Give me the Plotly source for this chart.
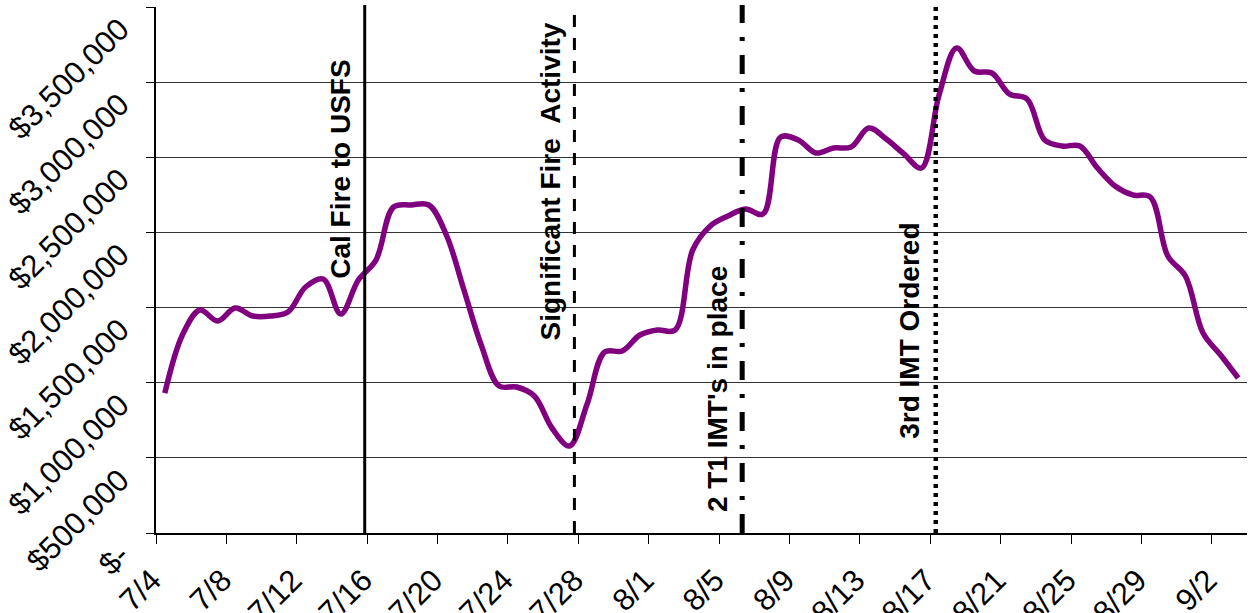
import plotly.graph_objects as go
import pandas as pd

# ---- data ----
start_date = "2008-07-04"
n_days = 62
daily_cost = [
    930000, 1317500, 1483800, 1410600, 1497200, 1443900, 1443900, 1470500,
    1636900, 1690100, 1457200, 1683500, 1816500, 2169200, 2182500, 2182500,
    1982900, 1616900, 1244300, 978100, 971500, 911600, 698700, 578900,
    858400, 1204400, 1211000, 1317500, 1350800, 1350800, 1883100, 2042800,
    2109300, 2155900, 2122600, 2635000, 2615000, 2528500, 2561800, 2568400,
    2694900, 2621700, 2521900, 2428700, 2914500, 3227200, 3074100, 3060800,
    2921100, 2887800, 2615000, 2575100, 2575100, 2428700, 2308900, 2249100,
    2235700, 1843200, 1710100, 1330800, 1184400, 1031400,
]
event_labels = ["Cal Fire to USFS", "Significant Fire  Activity",
                "2 T1 IMT's in place", "3rd IMT Ordered"]
event_dates = ["2008-07-15 20:40", "2008-07-27 18:40",
               "2008-08-06 07:30", "2008-08-17 07:30"]
y_tickvals = [0, 500000, 1000000, 1500000, 2000000, 2500000, 3000000, 3500000]
y_ticktext = ["$-", "$500,000", "$1,000,000", "$1,500,000", "$2,000,000",
              "$2,500,000", "$3,000,000", "$3,500,000"]

# ---- styles ----
event_dash = ["solid", "12px,11px", "19px,14px,4px,14px", "4px,5px"]
event_width = [3, 3, 5, 4.5]
label_ypaper = [0.692, 0.669, 0.274, 0.384]
label_xshift = [-25, -24, -24, -27]

dates = pd.date_range(start_date, periods=n_days, freq="D") + pd.Timedelta(hours=12)

FONT = "Arial, Liberation Sans, sans-serif"

fig = go.Figure()
fig.add_trace(go.Scatter(
    x=dates, y=daily_cost, mode="lines",
    line=dict(color="#800080", width=5.5, shape="spline", smoothing=1.0),
    showlegend=False, hoverinfo="x+y",
))

for d, dash, w, lab, ly, xs in zip(event_dates, event_dash, event_width,
                                   event_labels, label_ypaper, label_xshift):
    fig.add_shape(type="line", xref="x", yref="paper", x0=d, x1=d, y0=0, y1=1.004,
                  line=dict(color="black", width=w, dash=dash), layer="above")
    fig.add_annotation(x=d, xref="x", y=ly, yref="paper", text=lab, textangle=-90,
                       showarrow=False, xanchor="center", yanchor="middle",
                       xshift=xs,
                       font=dict(family=FONT, size=28, color="black", weight="bold"))

fig.update_layout(
    width=1253, height=613,
    margin=dict(l=156, r=6, t=7, b=80),
    plot_bgcolor="white", paper_bgcolor="white",
    font=dict(family=FONT, color="black"),
)
fig.update_xaxes(
    type="date", range=["2008-07-04", "2008-09-04"],
    tick0="2008-07-04", dtick=4 * 86400000, tickformat="%-m/%-d",
    tickangle=-45, ticks="outside", ticklen=9, tickcolor="black",
    ticklabelstandoff=6, ticklabelshift=-4, ticklabeloverflow="allow",
    showline=True, linecolor="black", linewidth=1.5,
    showgrid=False, zeroline=False, automargin=False,
    tickfont=dict(family=FONT, size=31, color="black"),
)
fig.update_yaxes(
    range=[0, 3500000], tickmode="array", tickvals=y_tickvals, ticktext=y_ticktext,
    tickangle=-45, ticks="outside", ticklen=8, tickcolor="black",
    ticklabelstandoff=20, ticklabelshift=18, ticklabeloverflow="allow",
    showline=True, linecolor="black", linewidth=1.5,
    showgrid=True, gridcolor="#333333", gridwidth=1,
    zeroline=False, automargin=False,
    tickfont=dict(family=FONT, size=31, color="black"),
)

fig.write_html("out.html")
